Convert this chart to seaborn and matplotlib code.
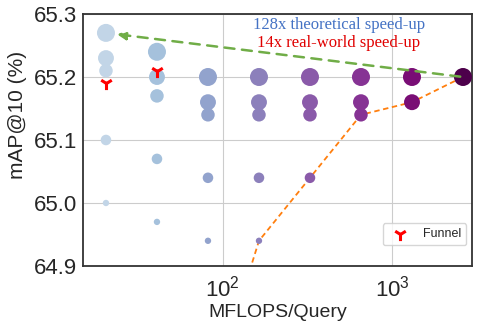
import numpy as np
import pandas as pd
import matplotlib
matplotlib.use("Agg")
import matplotlib.pyplot as plt
import seaborn as sns

# MFLOPS per query for each model column (log x axis)
MFLOPS = [20.5, 41, 82, 164, 328, 656, 1312, 2624]

# mAP@10 values in each column, largest marker first
MAP_BY_COL = [
    [65.27, 65.23, 65.21, 65.10, 65.00],
    [65.24, 65.20, 65.17, 65.07, 64.97],
    [65.20, 65.16, 65.14, 65.04, 64.94],
    [65.20, 65.16, 65.14, 65.04, 64.94],
    [65.20, 65.16, 65.14, 65.04],
    [65.20, 65.16, 65.14],
    [65.20, 65.16],
    [65.20],
]

# Funnel points
FUNNEL_X = [20.5, 41]
FUNNEL_Y = [65.19, 65.21]

# orange dashed frontier
FRONT_X = [2624, 1312, 656, 328, 164, 82]
FRONT_Y = [65.20, 65.16, 65.14, 65.04, 64.94, 64.68]

rows = []
for ci, (x, ys) in enumerate(zip(MFLOPS, MAP_BY_COL)):
    for lvl, y in enumerate(ys):
        rows.append({"mflops": x, "map": y, "col": ci, "level": 4 - lvl})
df = pd.DataFrame(rows)

sns.set_style("whitegrid", {"axes.edgecolor": "#333333", "grid.color": "#cccccc"})
plt.rcParams["font.family"] = ["Liberation Sans", "DejaVu Sans"]

fig = plt.figure(figsize=(4.78, 3.34), dpi=100)
ax = fig.add_axes([0.1736, 0.2036, 0.8138, 0.7545])

palette = [plt.cm.BuPu(v) for v in np.linspace(0.24, 1.0, len(MFLOPS))]
sns.scatterplot(data=df, x="mflops", y="map", hue="col", size="level",
                sizes=(21, 168), palette=palette, linewidth=0,
                legend=False, ax=ax, zorder=3)

ax.plot(FRONT_X, FRONT_Y, color="#ff7f0e", linestyle=(0, (3, 2)), linewidth=1.3, zorder=2)

ax.scatter(FUNNEL_X, FUNNEL_Y, marker="1", s=90, color="red", linewidths=2.2,
           zorder=4, label="Funnel")

ax.annotate("", xy=(MFLOPS[0], MAP_BY_COL[0][0]), xytext=(MFLOPS[-1], 65.20),
            arrowprops=dict(arrowstyle="-|>", color="#70ad47", linestyle=(0, (4, 3)),
                            linewidth=1.8, mutation_scale=13, shrinkA=2, shrinkB=8),
            zorder=5)

ax.text(485, 65.282, "128x theoretical speed-up", color="#4472c4",
        family="Liberation Serif", fontsize=12, ha="center", va="center")
ax.text(485, 65.254, "14x real-world speed-up", color="#e00000",
        family="Liberation Serif", fontsize=12, ha="center", va="center")

ax.set_xscale("log")
ax.set_xlim(15, 2965)
ax.set_ylim(64.9, 65.3)
ax.set_yticks([64.9, 65.0, 65.1, 65.2, 65.3])
ax.set_yticklabels(["64.9", "65.0", "65.1", "65.2", "65.3"])
ax.minorticks_off()
ax.tick_params(labelsize=16, length=0)
ax.tick_params(axis="x", pad=7)
ax.tick_params(axis="y", pad=4)
for s in ax.spines.values():
    s.set_linewidth(1.3)

ax.set_xlabel("MFLOPS/Query", fontsize=14, labelpad=2)
ax.set_ylabel("mAP@10 (%)", fontsize=15)
ax.yaxis.set_label_coords(-0.145, 0.6)

ax.legend(loc="lower right", bbox_to_anchor=(0.985, 0.083), borderaxespad=0,
          fontsize=9, frameon=True)

fig.savefig("out.png", dpi=100)
